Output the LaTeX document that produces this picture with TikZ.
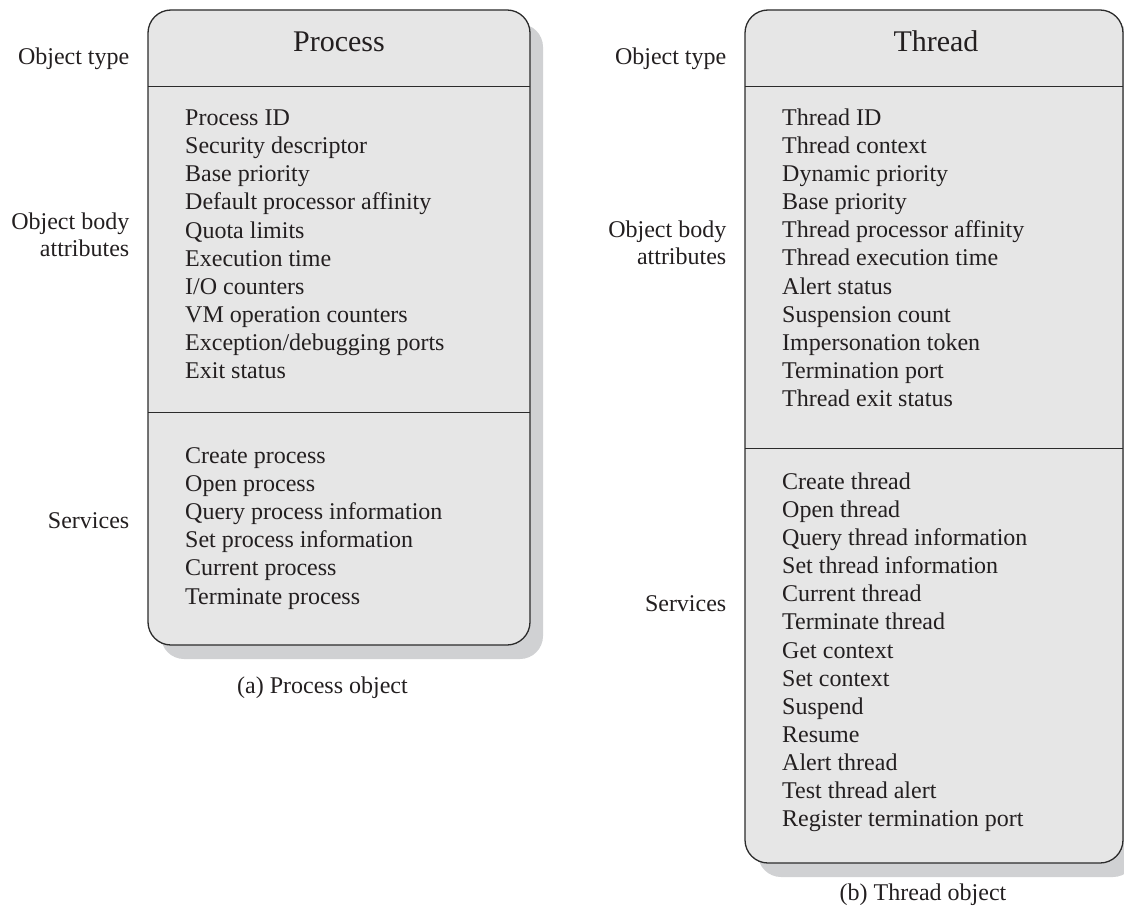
\documentclass[tikz,border=0pt]{standalone}
\usepackage{fontspec}
\setmainfont{Liberation Serif}
\definecolor{boxfill}{HTML}{E6E6E6}
\definecolor{shadowc}{HTML}{D0D1D3}
\definecolor{linec}{HTML}{2B2B2B}
\definecolor{textc}{HTML}{231F20}
\begin{document}
\begin{tikzpicture}[x=1pt,y=-1pt,
  itemtxt/.style={inner sep=0pt,anchor=base west,text=textc,font=\fontsize{24}{28}\selectfont},
  lbltxt/.style={inner sep=0pt,anchor=base east,text=textc,font=\fontsize{24}{28}\selectfont},
  titletxt/.style={inner sep=0pt,anchor=base,text=textc,font=\fontsize{30}{34}\selectfont},
  captxt/.style={inner sep=0pt,anchor=base,text=textc,font=\fontsize{24}{28}\selectfont},
  boxline/.style={draw=linec,line width=1.3pt},
  boxbody/.style={boxline,fill=boxfill,rounded corners=23pt},
  shadowbox/.style={fill=shadowc,rounded corners=23pt}]
\useasboundingbox (0,0) rectangle (1124,917);

% ---------- Process object ----------
\fill[shadowbox] (161,24) rectangle (543,659);
\draw[boxbody] (148,10) rectangle (530,645);
\draw[boxline] (148,86.5) -- (530,86.5);
\draw[boxline] (148,412.7) -- (530,412.7);
\node[titletxt] (ptitle) at (339,52) {Process};

\foreach \t [count=\i from 0] in {Process ID,Security descriptor,Base priority,Default processor affinity,Quota limits,Execution time,I/O counters,VM operation counters,Exception/debugging ports,Exit status}
  \node[itemtxt] (pa\i) at (185,125.7+28.1*\i) {\t};

\foreach \t [count=\i from 0] in {Create process,Open process,Query process information,Set process information,Current process,Terminate process}
  \node[itemtxt] (ps\i) at (185,463.5+28.1*\i) {\t};

\node[lbltxt] (pot) at (129.5,65) {Object type};
\node[lbltxt] (pob1) at (129.5,230) {Object body};
\node[lbltxt] (pob2) at (129.5,256.7) {attributes};
\node[lbltxt] (psv) at (129.5,528.3) {Services};
\node[captxt] (pcap) at (322.5,693) {(a) Process object};

% ---------- Thread object ----------
\fill[shadowbox] (758,24) rectangle (1136,877);
\draw[boxbody] (745,10) rectangle (1123,863);
\draw[boxline] (745,86.5) -- (1123,86.5);
\draw[boxline] (745,448.8) -- (1123,448.8);
\node[titletxt] (ttitle) at (936,52) {Thread};

\foreach \t [count=\i from 0] in {Thread ID,Thread context,Dynamic priority,Base priority,Thread processor affinity,Thread execution time,Alert status,Suspension count,Impersonation token,Termination port,Thread exit status}
  \node[itemtxt] (ta\i) at (782,125.2+28.15*\i) {\t};

\foreach \t [count=\i from 0] in {Create thread,Open thread,Query thread information,Set thread information,Current thread,Terminate thread,Get context,Set context,Suspend,Resume,Alert thread,Test thread alert,Register termination port}
  \node[itemtxt] (ts\i) at (782,489.3+28.12*\i) {\t};

\node[lbltxt] (tot) at (726.5,65) {Object type};
\node[lbltxt] (tob1) at (726.5,238) {Object body};
\node[lbltxt] (tob2) at (726.5,265) {attributes};
\node[lbltxt] (tsv) at (726.5,611.7) {Services};
\node[captxt] (tcap) at (923,900) {(b) Thread object};
\end{tikzpicture}
\end{document}
